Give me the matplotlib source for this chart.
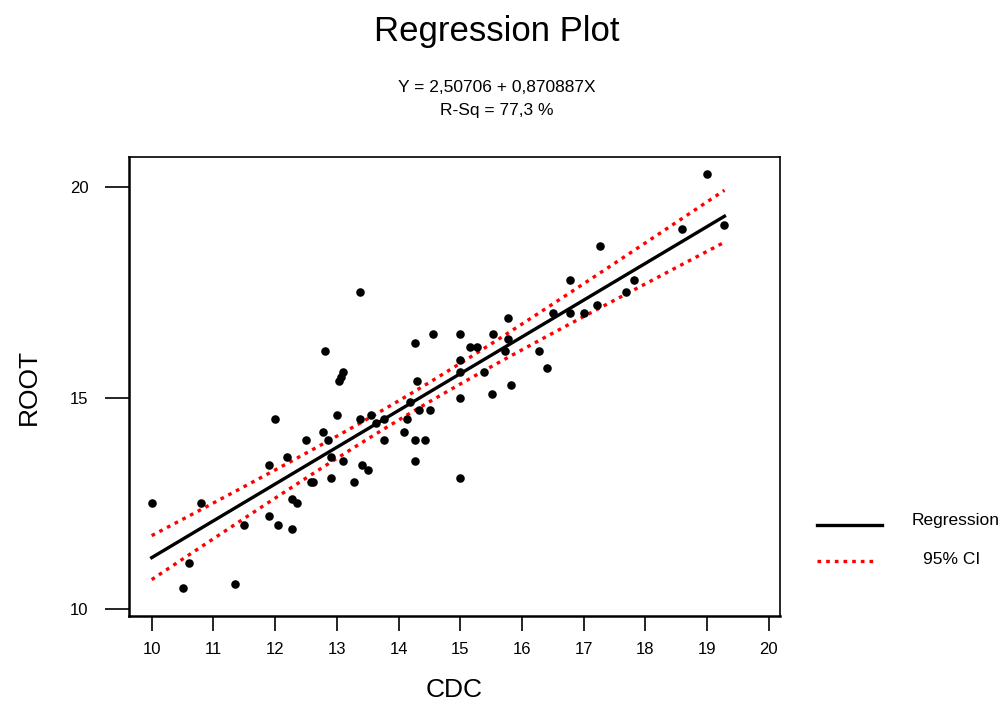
import numpy as np
import matplotlib
matplotlib.use("Agg")
import matplotlib.pyplot as plt
from matplotlib.lines import Line2D

plt.rcParams['font.family'] = ['Liberation Sans', 'DejaVu Sans']

# data
cdc = [10.0, 10.5, 10.6, 10.8, 11.35, 11.5, 11.9, 11.9, 12.0, 12.05,
       12.2, 12.27, 12.27, 12.35, 12.5, 12.58, 12.62, 12.77, 12.8, 12.85,
       12.9, 12.9, 13.0, 13.03, 13.07, 13.1, 13.1, 13.27, 13.38, 13.38,
       13.4, 13.5, 13.56, 13.64, 13.77, 13.77, 14.08, 14.14, 14.19, 14.27,
       14.27, 14.27, 14.3, 14.33, 14.43, 14.51, 14.56, 15.0, 15.0, 15.0,
       15.0, 15.0, 15.16, 15.27, 15.38, 15.51, 15.53, 15.72, 15.77, 15.77,
       15.82, 16.27, 16.4, 16.51, 16.77, 16.77, 17.01, 17.21, 17.27, 17.69,
       17.82, 18.59, 19.0, 19.28]
root = [12.5, 10.5, 11.1, 12.5, 10.6, 12.0, 13.4, 12.2, 14.5, 12.0,
        13.6, 11.9, 12.6, 12.5, 14.0, 13.0, 13.0, 14.2, 16.1, 14.0,
        13.6, 13.1, 14.6, 15.4, 15.5, 15.6, 13.5, 13.0, 14.5, 17.5,
        13.4, 13.3, 14.6, 14.4, 14.5, 14.0, 14.2, 14.5, 14.9, 16.3,
        14.0, 13.5, 15.4, 14.7, 14.0, 14.7, 16.5, 16.5, 15.9, 15.6,
        15.0, 13.1, 16.2, 16.2, 15.6, 15.1, 16.5, 16.1, 16.4, 16.9,
        15.3, 16.1, 15.7, 17.0, 17.8, 17.0, 17.0, 17.2, 18.6, 17.5,
        17.8, 19.0, 20.3, 19.1]

intercept = 2.50706
slope = 0.870887
x_ticks = list(range(10, 21))
y_ticks = [10, 15, 20]

x = np.array(cdc)
y = np.array(root)
n = len(x)

# regression line and 95% confidence band
xs = np.unique(x)
fit = intercept + slope * xs
resid = y - (intercept + slope * x)
s = np.sqrt(np.sum(resid ** 2) / (n - 2))
sxx = np.sum((x - x.mean()) ** 2)
t_val = 1.994
half = t_val * s * np.sqrt(1.0 / n + (xs - x.mean()) ** 2 / sxx)

fig = plt.figure(figsize=(10.02, 7.04), dpi=100)
ax = fig.add_axes([129/1002, 1-616/704, (780-129)/1002, (616-157)/704])

ax.scatter(x, y, s=38, color='black', zorder=3, linewidths=0)
ax.plot(xs, fit, color='black', lw=2.4, zorder=2)
ax.plot(xs, fit + half, color='red', lw=2.4, ls=(0, (1.1, 1.5)), zorder=2)
ax.plot(xs, fit - half, color='red', lw=2.4, ls=(0, (1.1, 1.5)), zorder=2)

ax.set_xlim(9.632, 20.18)
ax.set_ylim(9.834, 20.70)
ax.set_xticks(x_ticks)
ax.set_yticks(y_ticks)
ax.tick_params(axis='x', direction='out', length=11, width=1.2, pad=8, labelsize=12)
ax.tick_params(axis='y', direction='out', length=17, width=1.2, pad=12, labelsize=12)
for sp in ax.spines.values():
    sp.set_linewidth(1.2)
ax.spines['left'].set_linewidth(1.8)
ax.spines['bottom'].set_linewidth(1.8)

ax.set_xlabel('CDC', fontsize=19, labelpad=15)
ax.set_ylabel('ROOT', fontsize=19, labelpad=21)

fig.text(0.496, 1-31/704, 'Regression Plot', fontsize=25, ha='center', va='center')
fig.text(0.496, 1-87/704, 'Y = 2,50706 + 0,870887X', fontsize=12.5, ha='center', va='center')
fig.text(0.496, 1-111/704, 'R-Sq = 77,3 %', fontsize=12.5, ha='center', va='center')

# legend drawn by hand at the right
fig.add_artist(Line2D([817/1002, 882/1002], [1-525/704, 1-525/704], color='black', lw=2.4))
fig.add_artist(Line2D([817/1002, 877/1002], [1-561/704, 1-561/704], color='red', lw=2.4,
                      ls=(0, (1.1, 1.5))))
fig.text(956/1002, 1-521/704, 'Regression', fontsize=12.5, ha='center', va='center')
fig.text(952/1002, 1-559/704, '95% CI', fontsize=12.5, ha='center', va='center')

fig.savefig('out.png', dpi=100)
